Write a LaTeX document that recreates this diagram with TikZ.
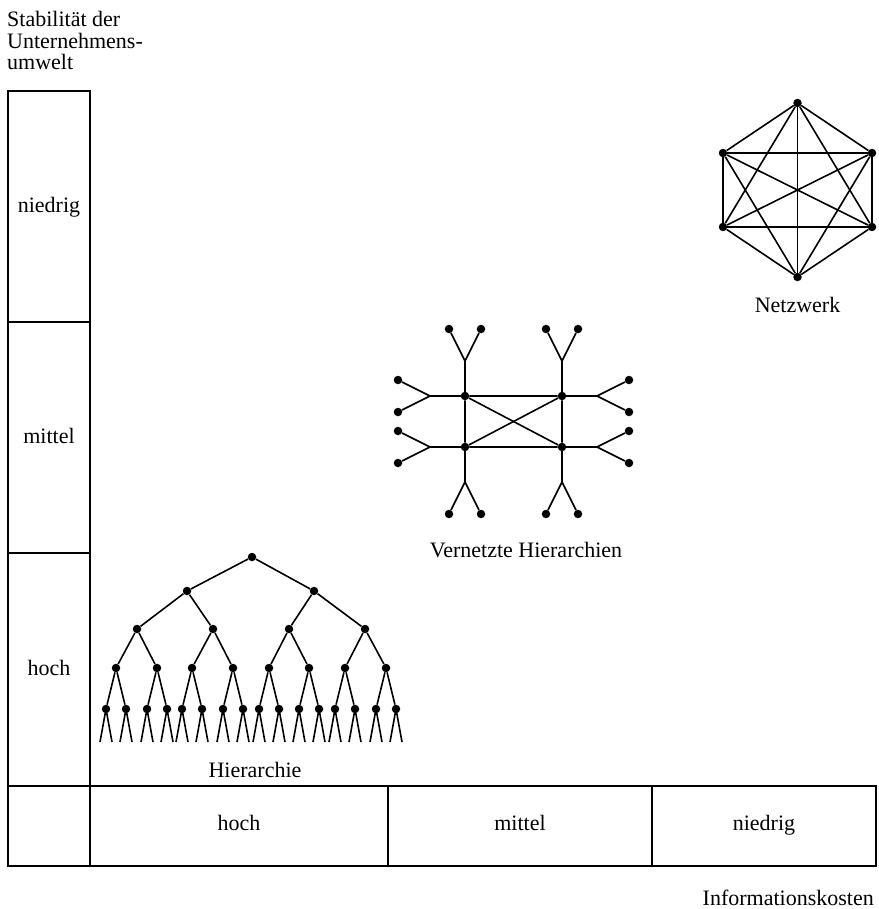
\documentclass[tikz,border=0pt]{standalone}
\usepackage{fontspec}
\setmainfont{Liberation Serif}
\usetikzlibrary{positioning}
\tikzset{dot/.style = {fill, circle, inner sep = 0, minimum size = 8.5}}
\tikzset{cell/.style = {draw, line width = 1.8, inner sep = 0, outer sep = 0,
                        font = \fontsize{22}{21.5}\selectfont,
                        text height = 2.25ex, text depth = 0.25ex}}
\tikzset{scell/.style = {cell, anchor = north west, minimum width = 82, text height = 2.9ex}}
\tikzset{lbl/.style = {font = \fontsize{22}{21.5}\selectfont}}
\tikzset{edge/.style = {line width = 1.6}}

\begin{document}
\begin{tikzpicture}[x=1pt, y=-1pt]
  \useasboundingbox (0, 0) rectangle (878, 909);

  \node at (7, 11.5) [lbl, anchor = north west, align = left, inner sep = 0]
    (stab) {Stabilität der\\Unternehmens-\\umwelt};
  \node at (8, 91) [scell, minimum height = 231] (s1) {niedrig};
  \node at (8, 322) [scell, minimum height = 231] (s2) {mittel};
  \node at (8, 553) [scell, minimum height = 233] (s3) {hoch};
  \node at (8, 786) [cell, anchor = north west, minimum width = 82, minimum height = 80] (s0) {};
  \node at (90, 786) [cell, anchor = north west, minimum width = 298, minimum height = 80] (k1) {hoch};
  \node at (388, 786) [cell, anchor = north west, minimum width = 264, minimum height = 80] (k2) {mittel};
  \node at (652, 786) [cell, anchor = north west, minimum width = 224, minimum height = 80] (k3) {niedrig};
  \node at (874, 905) [lbl, anchor = base east, inner sep = 0] (info) {Informationskosten};

  \node at (252, 557) [dot] (h) {};
  \foreach \p/\x in {1/187, 2/314}
    \node at (\x, 591) [dot] (h\p) {};
  \foreach \p/\x in {11/137, 12/213, 21/289, 22/365}
    \node at (\x, 629) [dot] (h\p) {};
  \foreach \p/\x in {111/116, 112/157, 121/192, 122/233, 211/269, 212/309, 221/345, 222/386} {
    \node at (\x, 668) [dot] (h\p) {};
    \node at ({\x - 10}, 709) [dot] (h\p1) {};
    \node at ({\x + 10}, 709) [dot] (h\p2) {};
  }
  \foreach \a in {1, 2} {
    \draw [edge] (h) -- (h\a);
    \foreach \b in {1, 2} {
      \draw [edge] (h\a) -- (h\a\b);
      \foreach \c in {1, 2} {
        \draw [edge] (h\a\b) -- (h\a\b\c);
        \foreach \d in {1, 2} {
          \draw [edge] (h\a\b\c) -- (h\a\b\c\d);
          \coordinate (f\a\b\c\d1) at ([shift = {(-6, 33)}]h\a\b\c\d.center);
          \coordinate (f\a\b\c\d2) at ([shift = {(6, 33)}]h\a\b\c\d.center);
          \draw [edge] (f\a\b\c\d1) -- (h\a\b\c\d.center) -- (f\a\b\c\d2);
        }
      }
    }
  }
  \node at (255, 777) [lbl, anchor = base] (hier) {Hierarchie};

  \node at (465, 396) [dot] (v1) {};
  \node at (562, 396) [dot] (v2) {};
  \node at (465, 447) [dot] (v3) {};
  \node at (562, 447) [dot] (v4) {};
  \draw [edge] (v1) -- (v2) -- (v4) -- (v3) -- (v1) -- (v4);
  \draw [edge] (v2) -- (v3);
  \foreach \v/\d/\dx/\dy in {v1/o/0/-1, v1/l/-1/0, v2/o/0/-1, v2/r/1/0,
                             v3/u/0/1, v3/l/-1/0, v4/u/0/1, v4/r/1/0} {
    \coordinate (\v\d) at ([shift = {({35*\dx}, {35*\dy})}]\v.center);
    \node at ([shift = {({67*\dx + 16*\dy}, {67*\dy + 16*\dx})}]\v.center) [dot] (\v\d1) {};
    \node at ([shift = {({67*\dx - 16*\dy}, {67*\dy - 16*\dx})}]\v.center) [dot] (\v\d2) {};
    \draw [edge] (\v) -- (\v\d);
    \draw [edge] (\v\d1) -- (\v\d) -- (\v\d2);
  }
  \node at (526, 557) [lbl, anchor = base] (vern) {Vernetzte Hierarchien};

  \node at (797.5, 103) [dot] (n1) {};
  \node at (872, 153) [dot] (n2) {};
  \node at (872, 227) [dot] (n3) {};
  \node at (797.5, 277) [dot] (n4) {};
  \node at (723, 227) [dot] (n5) {};
  \node at (723, 153) [dot] (n6) {};
  \foreach \i in {1, ..., 6}
    \foreach \j in {1, ..., 6} {
      \ifnum\i<\j \draw [edge] (n\i) -- (n\j); \fi
    }
  \node [lbl, below = 31.5pt of n4, anchor = base] (netz) {Netzwerk};
\end{tikzpicture}
\end{document}
